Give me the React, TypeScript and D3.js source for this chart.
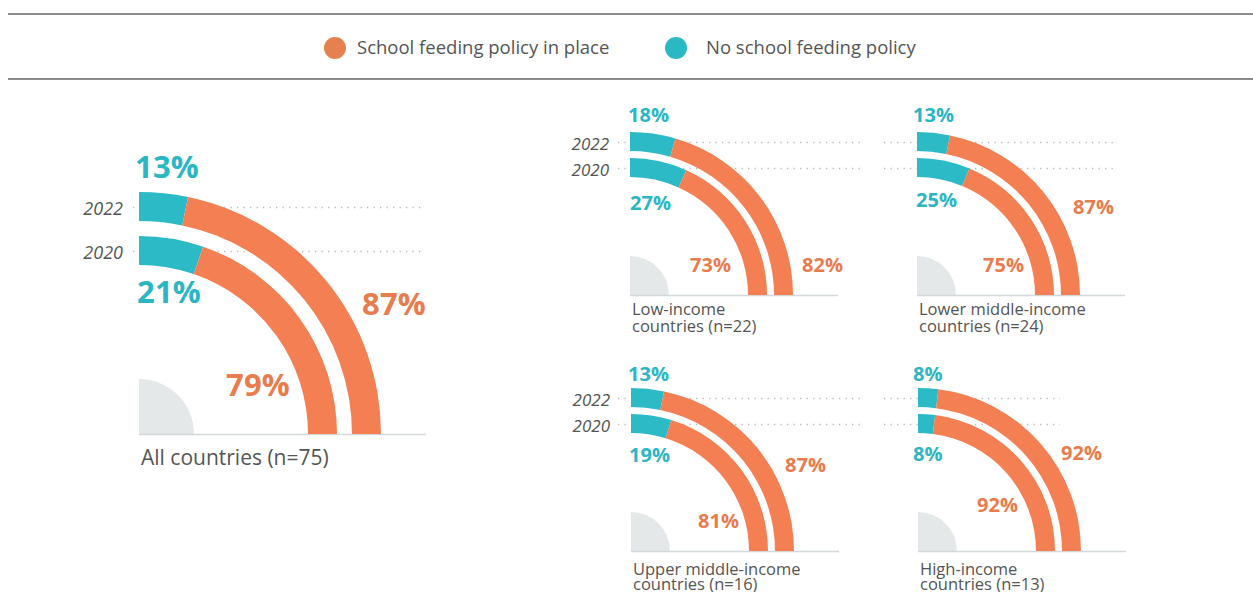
import React from 'react';
import * as d3 from 'd3';

// data
const titles = [
  ['All countries (n=75)'],
  ['Low-income', 'countries (n=22)'],
  ['Lower middle-income', 'countries (n=24)'],
  ['Upper middle-income', 'countries (n=16)'],
  ['High-income', 'countries (n=13)'],
];
const years = ['2022', '2020'];
const noPolicy2022 = [13, 18, 13, 13, 8];
const noPolicy2020 = [21, 27, 25, 19, 8];
const policy2022 = [87, 82, 87, 87, 92];
const policy2020 = [79, 73, 75, 81, 92];
const legendLabels = ['School feeding policy in place', 'No school feeding policy'];

const ORANGE = '#f47f52';
const TEAL = '#2bbac6';
const ORANGE_TXT = '#e97b4c';
const TEAL_TXT = '#2bb6c3';
const GREY_TXT = '#555';
const FONT = '"Open Sans", "Noto Sans", sans-serif';

// layout per panel (positions only, no data)
const big = { r: 242, band: 29, gap: 15, hub: 55, font: 31, spacing: 0.2, titleFont: 21, yearFont: 18 };
const small = { r: 163, band: 19, gap: 7, hub: 39, font: 20, spacing: 0, titleFont: 16.5, yearFont: 17 };
const panels = [
  { ...big, cx: 139, cy: 434, years: true, yearDx: -16, lineStart: -6, lineEnd: 282,
    outerLab: [223, -119], innerLab: [87, -38], topLab: [-4, -256], lowLab: [-2, -131], titleDy: [31] },
  { ...small, cx: 630, cy: 295, years: true, yearDx: -21, lineStart: -12, lineEnd: 230,
    outerLab: [172, -23], innerLab: [60, -23], topLab: [-2, -173], lowLab: [0, -85], titleDy: [20, 37] },
  { ...small, cx: 917, cy: 295, years: false, yearDx: -21, lineStart: -33, lineEnd: 196,
    outerLab: [156, -81], innerLab: [66, -23], topLab: [-4, -173], lowLab: [-1, -88], titleDy: [20, 37] },
  { ...small, cx: 631, cy: 551, years: true, yearDx: -21, lineStart: -13, lineEnd: 229,
    outerLab: [154, -79], innerLab: [67, -23], topLab: [-3, -170], lowLab: [-2, -89], titleDy: [24, 39] },
  { ...small, cx: 918, cy: 551, years: false, yearDx: -21, lineStart: -34, lineEnd: 142,
    outerLab: [143, -91], innerLab: [59, -39], topLab: [-5, -170], lowLab: [-5, -90], titleDy: [24, 39] },
];

const angle = d3.scaleLinear().domain([0, 100]).range([0, Math.PI / 2]);

const Panel = ({ p, i }) => {
  const rings = [
    { year: years[0], no: noPolicy2022[i], yes: policy2022[i], outer: p.r },
    { year: years[1], no: noPolicy2020[i], yes: policy2020[i], outer: p.r - p.band - p.gap },
  ];
  const hub = d3.arc()({ innerRadius: 0, outerRadius: p.hub, startAngle: 0, endAngle: Math.PI / 2 });
  return (
    <g transform={`translate(${p.cx},${p.cy})`}>
      {rings.map((d) => {
        const y = -(d.outer - p.band / 2) + 1;
        return (
          <g key={d.year}>
            <line x1={p.lineStart} x2={p.lineEnd} y1={y} y2={y} stroke="#b8b8b8"
              strokeWidth={1.3} strokeDasharray="1.3 5.2" />
            {p.years && (
              <text x={p.yearDx} y={y + 7} textAnchor="end" fontStyle="italic"
                fontSize={p.yearFont} fill={GREY_TXT}>{d.year}</text>
            )}
          </g>
        );
      })}
      <path d={hub} fill="#e4e8e9" />
      <line x1={0} x2={p.r + 45} y1={0.5} y2={0.5} stroke="#d3d8db" strokeWidth={1.5} />
      {rings.map((d) => {
        const arc = d3.arc().innerRadius(d.outer - p.band).outerRadius(d.outer);
        return (
          <g key={d.year}>
            <path d={arc({ startAngle: angle(0), endAngle: angle(d.no) })} fill={TEAL} />
            <path d={arc({ startAngle: angle(d.no), endAngle: angle(d.no + d.yes) })} fill={ORANGE} />
          </g>
        );
      })}
      <g fontWeight={700} fontSize={p.font} letterSpacing={p.spacing}>
        <text x={p.topLab[0]} y={p.topLab[1]} fill={TEAL_TXT}>{rings[0].no}%</text>
        <text x={p.lowLab[0]} y={p.lowLab[1]} fill={TEAL_TXT}>{rings[1].no}%</text>
        <text x={p.outerLab[0]} y={p.outerLab[1]} fill={ORANGE_TXT}>{rings[0].yes}%</text>
        <text x={p.innerLab[0]} y={p.innerLab[1]} fill={ORANGE_TXT}>{rings[1].yes}%</text>
      </g>
      {titles[i].map((t, k) => (
        <text key={t} x={2} y={p.titleDy[k]} fontSize={p.titleFont} fill={GREY_TXT}>{t}</text>
      ))}
    </g>
  );
};

export default function App() {
  const legend = [
    { label: legendLabels[0], color: '#e5814f', x: 335, tx: 357 },
    { label: legendLabels[1], color: '#2bb8c5', x: 676, tx: 706 },
  ];
  return (
    <svg width={1253} height={592} style={{ position: 'absolute', left: 0, top: 0 }} fontFamily={FONT}>
      <rect width={1253} height={592} fill="#fff" />
      <line x1={8} x2={1253} y1={14} y2={14} stroke="#666" strokeWidth={1.3} />
      <line x1={8} x2={1253} y1={79} y2={79} stroke="#666" strokeWidth={1.3} />
      {legend.map((l) => (
        <g key={l.label}>
          <circle cx={l.x} cy={48} r={11} fill={l.color} />
          <text x={l.tx} y={54} fontSize={18.5} fill={GREY_TXT}>{l.label}</text>
        </g>
      ))}
      {panels.map((p, i) => <Panel key={i} p={p} i={i} />)}
    </svg>
  );
}
